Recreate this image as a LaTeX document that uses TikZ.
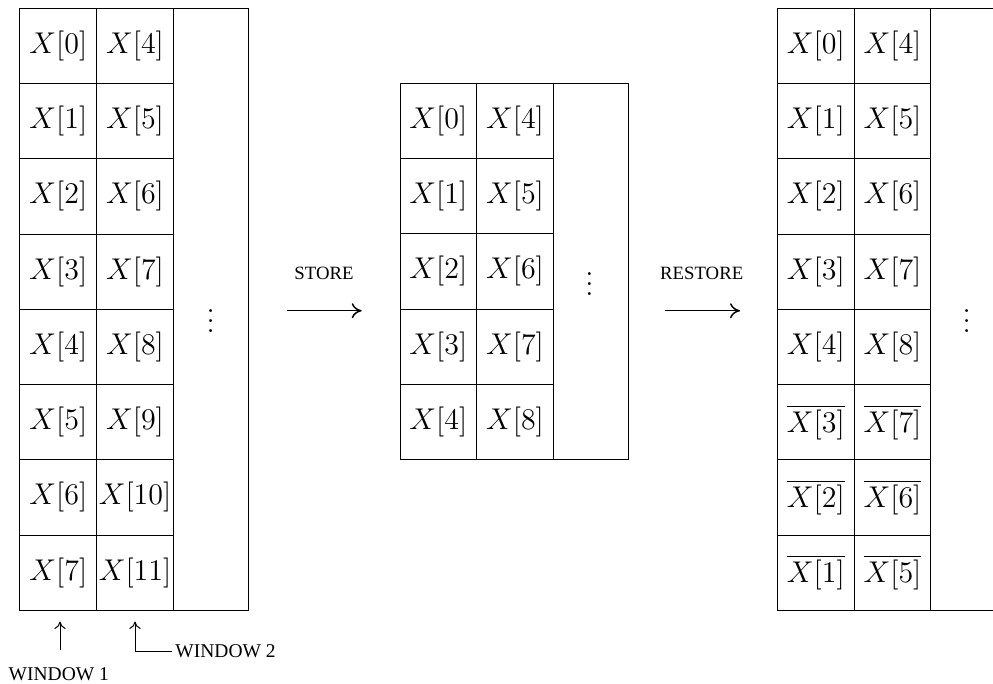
\documentclass[tikz,border=0pt]{standalone}
\usepackage{fontspec}
\newfontfamily\labelfont{Liberation Serif}
\usetikzlibrary{arrows.meta}
\begin{document}
\begin{tikzpicture}[x=0.4pt, y=-0.4pt,
  font=\fontsize{12}{14}\selectfont,
  cell/.style={draw, line width=0.4pt, minimum width=30.68pt, minimum height=30.1pt,
               inner sep=0pt, outer sep=0pt},
  tail/.style={draw, line width=0.4pt, minimum width=30pt, inner sep=0pt, outer sep=0pt},
  dots/.style={inner sep=0pt},
  tag/.style={inner sep=1.3pt, font=\labelfont\fontsize{7.5}{9}\selectfont},
  wintag/.style={tag, font=\labelfont\fontsize{7.8}{9}\selectfont},
  bigarrow/.style={line width=0.6pt, -{Computer Modern Rightarrow[length=4pt,width=6pt]}},
  smallarrow/.style={line width=0.4pt, -{Computer Modern Rightarrow[length=3pt,width=4.5pt]}}]
\useasboundingbox (0,0) rectangle (993,683);

% ---------- left array: two windows of 8 entries ----------
\node[tail, minimum height=240.8pt] (Ltail) at (210.7,309.3) {};
\node[dots] (Ldots) at (210.7,313.8) {$\vdots$};
\foreach \i in {0,...,7}{
  \pgfmathtruncatemacro\j{\i+4}
  \node[cell] (La\i) at (58.35,{45.9+75.25*\i}) {$X[\i]$};
  \node[cell] (Lb\i) at (135.05,{45.9+75.25*\i}) {$X[\j]$};
}

% ---------- middle array: stored entries ----------
\node[tail, minimum height=150.5pt] (Mtail) at (590.7,271.4) {};
\node[dots] (Mdots) at (589.5,276.3) {$\vdots$};
\foreach \i in {0,...,4}{
  \pgfmathtruncatemacro\j{\i+4}
  \node[cell] (Ma\i) at (438.35,{120.9+75.25*\i}) {$X[\i]$};
  \node[cell] (Mb\i) at (515.05,{120.9+75.25*\i}) {$X[\j]$};
}

% ---------- right array: restored entries ----------
\node[tail, minimum height=240.8pt] (Rtail) at (968.3,309.3) {};
\node[dots] (Rdots) at (966.7,313.8) {$\vdots$};
\foreach \i in {0,...,4}{
  \pgfmathtruncatemacro\j{\i+4}
  \node[cell] (Ra\i) at (815.85,{45.9+75.25*\i}) {$X[\i]$};
  \node[cell] (Rb\i) at (892.55,{45.9+75.25*\i}) {$X[\j]$};
}
\foreach \i/\k in {5/3,6/2,7/1}{
  \pgfmathtruncatemacro\j{\k+4}
  \node[cell] (Ra\i) at (815.85,{45.9+75.25*\i}) {$\overline{X[\k]}$};
  \node[cell] (Rb\i) at (892.55,{45.9+75.25*\i}) {$\overline{X[\j]}$};
}

% ---------- transitions ----------
\coordinate (s1) at (286.7,310.7);
\coordinate (s2) at (361.7,310.7);
\draw[bigarrow] (s1) -- (s2);
\node[tag] (storelbl) at (324,273) {STORE};

\coordinate (r1) at (665,310.7);
\coordinate (r2) at (740,310.7);
\draw[bigarrow] (r1) -- (r2);
\node[tag] (restorelbl) at (701.7,273) {RESTORE};

% ---------- window markers ----------
\node[wintag] (w1) at (58.8,673.7) {WINDOW 1};
\coordinate (w1b) at (60,650);
\coordinate (w1t) at (60,621.5);
\draw[smallarrow] (w1b) -- (w1t);

\node[wintag, anchor=west] (w2) at (171.7,651) {WINDOW 2};
\coordinate (w2t) at (135,621.5);
\draw[smallarrow] (w2.west) -| (w2t);
\end{tikzpicture}
\end{document}
